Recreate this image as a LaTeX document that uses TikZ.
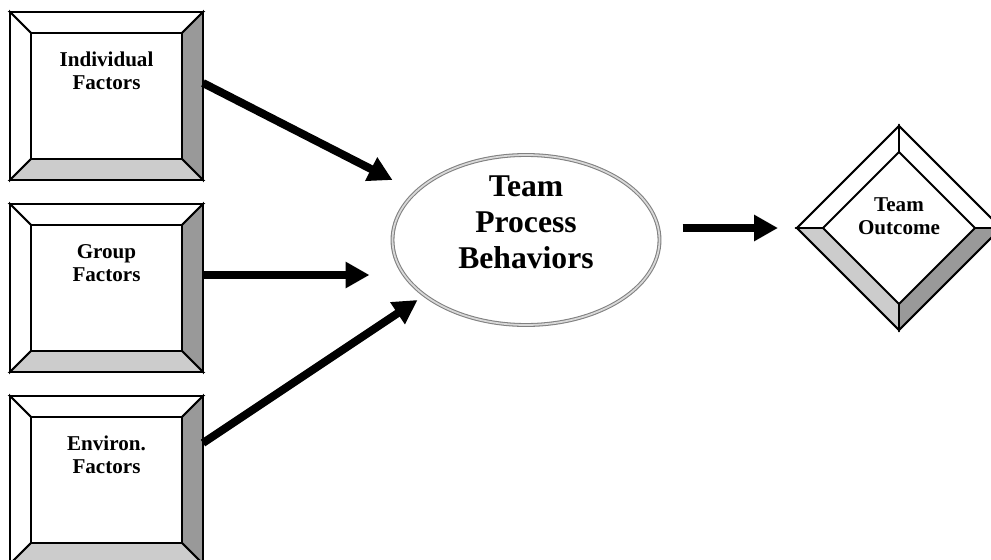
\documentclass[tikz,border=0pt]{standalone}
\usepackage{fontspec}
\setmainfont{Liberation Serif}
\usetikzlibrary{calc, arrows.meta, shapes.geometric}

\definecolor{sidelight}{gray}{0.8}
\definecolor{sidedark}{gray}{0.6}

\begin{document}
\begin{tikzpicture}[
    every node/.style={font=\bfseries\fontsize{12}{13}\selectfont},
    factor/.style={draw, line width=1.1pt, fill=white, minimum width=3.86cm, minimum height=3.36cm, inner sep=0pt, outer sep=0pt},
    lbl/.style={anchor=north, inner sep=0pt, align=center, yshift=-0.8cm},
    face/.style={draw, line width=1.1pt, line join=miter},
    arrow/.style={-{Triangle[length=0.48cm, width=0.5cm]}, line width=0.16cm}
]
\useasboundingbox (0,0) rectangle (19.82,-11.2);
\clip (0,0) rectangle (19.82,-11.2);

\node[factor, label={[lbl]north:Individual\\Factors}] (indiv) at (2.13,-1.92) {};
\node[factor, label={[lbl]north:Group\\Factors}]      (group) at (2.13,-5.76) {};
\node[factor, label={[lbl]north:Environ.\\Factors}]   (envir) at (2.13,-9.60) {};

% bevelled sides
\foreach \b in {indiv,group,envir}{
  \coordinate (\b-nw) at ($(\b.north west)+(0.42,-0.42)$);
  \coordinate (\b-ne) at ($(\b.north east)+(-0.42,-0.42)$);
  \coordinate (\b-se) at ($(\b.south east)+(-0.42,0.42)$);
  \coordinate (\b-sw) at ($(\b.south west)+(0.42,0.42)$);
  \filldraw[face, fill=white] (\b.north west) -- (\b.north east) -- (\b-ne) -- (\b-nw) -- cycle;
  \filldraw[face, fill=white] (\b.north west) -- (\b-nw) -- (\b-sw) -- (\b.south west) -- cycle;
  \filldraw[face, fill=sidedark] (\b.north east) -- (\b.south east) -- (\b-se) -- (\b-ne) -- cycle;
  \filldraw[face, fill=sidelight] (\b.south west) -- (\b-sw) -- (\b-se) -- (\b.south east) -- cycle;
}

\node[ellipse, draw=black!50, double=black!15, double distance=1pt, line width=0.6pt,
      minimum width=5.34cm, minimum height=3.4cm, inner sep=0pt, outer sep=0pt,
      label={[anchor=center, inner sep=0pt, align=center, yshift=0.35cm,
              font=\bfseries\fontsize{18}{20.4}\selectfont]center:Team\\Process\\Behaviors}] (pb) at (10.52,-4.8) {};

\node[diamond, draw, line width=1.1pt, fill=white, aspect=1, minimum width=4.08cm, minimum height=4.08cm,
      inner sep=0pt, outer sep=0pt,
      label={[anchor=center, inner sep=0pt, align=center, yshift=0.24cm]center:Team\\Outcome}] (outc) at (17.98,-4.56) {};

% bevelled diamond
\coordinate (outc-n) at ($(outc.north)+(0,-0.52)$);
\coordinate (outc-e) at ($(outc.east)+(-0.52,0)$);
\coordinate (outc-s) at ($(outc.south)+(0,0.52)$);
\coordinate (outc-w) at ($(outc.west)+(0.52,0)$);
\filldraw[face, fill=white] (outc.west) -- (outc.north) -- (outc-n) -- (outc-w) -- cycle;
\filldraw[face, fill=white] (outc.north) -- (outc.east) -- (outc-e) -- (outc-n) -- cycle;
\filldraw[face, fill=sidedark] (outc.east) -- (outc.south) -- (outc-s) -- (outc-e) -- cycle;
\filldraw[face, fill=sidelight] (outc.south) -- (outc.west) -- (outc-w) -- (outc-s) -- cycle;

\draw[arrow] ([yshift=0.26cm]indiv.east) -- ([yshift=1.2cm]pb.west);
\draw[arrow] ([yshift=0.26cm]group.east) -- ([xshift=-0.46cm,yshift=-0.7cm]pb.west);
\draw[arrow] ([yshift=0.74cm]envir.east) -- ([xshift=0.5cm,yshift=-1.2cm]pb.west);
\draw[arrow] ([xshift=0.46cm,yshift=0.24cm]pb.east) -- ([xshift=-0.38cm]outc.west);

\end{tikzpicture}
\end{document}
